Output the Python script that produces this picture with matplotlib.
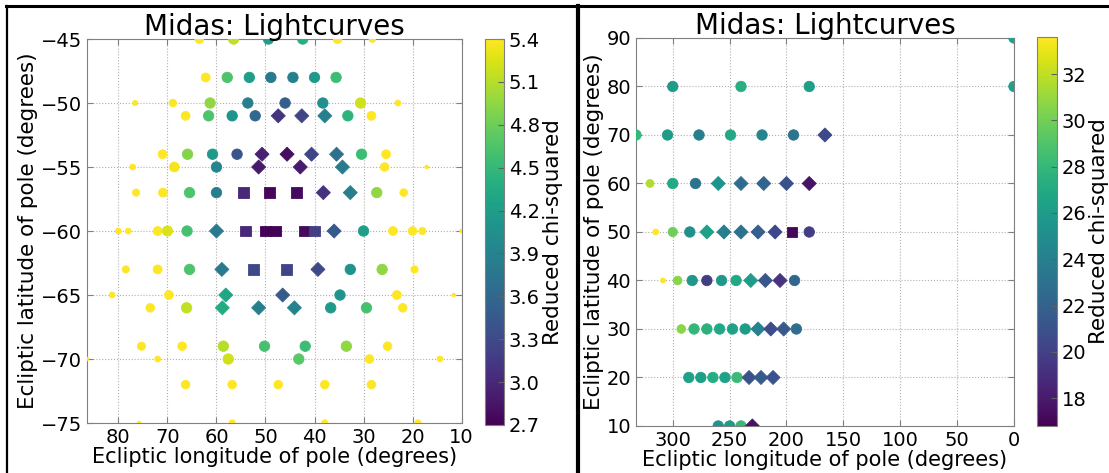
import numpy as np
import matplotlib
matplotlib.use('Agg')
from matplotlib import pyplot as plt
from matplotlib.lines import Line2D
from matplotlib.colors import Normalize
from matplotlib.cm import ScalarMappable

# southern pole solutions: ecliptic longitude, latitude, reduced chi-squared, marker class
south_lon = [63.5, 56.5, 49.4, 42.4, 35.3, 28.2,
             62.2, 57.8, 53.3, 48.9, 44.4, 40.0, 35.6,
             76.6, 68.9, 61.3, 53.6, 46.0, 38.3, 30.6, 23.0,
             66.3, 61.6, 56.8, 52.1, 47.4, 42.6, 37.9, 33.2, 28.4,
             71.0, 65.9, 60.8, 55.8, 50.7, 45.6, 40.6, 35.5, 30.4, 25.4,
             77.1, 68.6, 60.0, 51.4, 42.9, 34.3, 25.7, 17.1,
             76.4, 70.9, 65.5, 60.0, 54.5, 49.1, 43.6, 38.2, 32.7, 27.3, 21.8,
             78.0, 72.0, 66.0, 60.0, 54.0, 48.0, 42.0, 36.0, 30.0, 24.0, 18.0,
             80.0, 70.0, 50.0, 40.0, 20.0, 10.0,
             78.5, 72.0, 65.5, 58.9, 52.4, 45.8, 39.3, 32.7, 26.2, 19.6,
             81.3, 69.7, 58.1, 46.5, 34.8, 23.2, 11.6,
             73.5, 66.1, 58.8, 51.4, 44.1, 36.7, 29.4, 22.0,
             75.3, 67.0, 58.6, 50.2, 41.9, 33.5, 25.1,
             86.4, 72.0, 57.6, 43.2, 28.8, 14.4,
             66.3, 56.8, 47.4, 37.9, 28.4,
             75.8, 56.8, 37.9, 18.9]
south_lat = ([-45] * 6 + [-48] * 7 + [-50] * 8 + [-51] * 9 + [-54] * 10 + [-55] * 8
             + [-57] * 11 + [-60] * 11 + [-60] * 6 + [-63] * 10 + [-65] * 7
             + [-66] * 8 + [-69] * 7 + [-70] * 6 + [-72] * 5 + [-75] * 4)
south_chi2 = [5.54, 5.15, 4.2, 4.4, 5.54, 6.0,
              5.54, 4.65, 4.2, 3.8, 3.85, 4.15, 4.55,
              6.33, 5.83, 4.95, 3.85, 3.5, 4.05, 5.2, 6.2,
              5.54, 4.65, 4.1, 3.6, 3.1, 3.25, 3.85, 4.45, 5.54,
              5.54, 4.9, 4.15, 3.4, 2.95, 2.8, 3.25, 3.7, 4.55, 5.54,
              6.2, 5.35, 3.95, 2.88, 2.88, 3.8, 5.6, 6.67,
              5.9, 5.54, 4.65, 3.85, 3.0, 2.75, 2.78, 3.1, 3.85, 4.95, 5.8,
              6.2, 5.54, 4.6, 3.8, 3.0, 2.72, 2.78, 3.45, 4.2, 5.54, 5.9,
              6.2, 5.25, 2.72, 3.2, 5.6, 6.67,
              5.9, 5.54, 4.65, 3.8, 3.3, 3.25, 3.3, 4.1, 4.95, 5.9,
              6.2, 5.54, 4.3, 3.45, 4.1, 5.54, 6.67,
              5.6, 5.15, 4.35, 3.85, 3.9, 4.15, 4.6, 5.6,
              5.7, 5.6, 5.1, 4.6, 4.55, 4.95, 5.6,
              6.67, 6.2, 5.2, 4.7, 5.6, 6.2,
              5.6, 5.6, 5.6, 5.6, 5.6,
              6.67, 6.1, 6.1, 6.1]
south_kind = ''.join(['oooooo', 'ooooooo', 'oooooooo', 'ooooDDDoo', 'ooooDDDDoo',
                      'oooDDDoo', 'oooosssDDoo', 'oooDsssDooo', 'oossoo',
                      'oooDssDooo', 'ooDDooo', 'ooDDDooo', 'ooooooo', 'oooooo',
                      'ooooo', 'oooo'])

# northern pole solutions
north_lon = [0.0,
             300.0, 240.0, 180.0, 0.0,
             332.3, 304.6, 276.9, 249.2, 221.5, 193.8, 166.2,
             320.0, 300.0, 280.0, 260.0, 240.0, 220.0, 200.0, 180.0,
             315.0, 300.0, 285.0, 270.0, 255.0, 240.0, 225.0, 210.0, 195.0, 180.0,
             308.6, 295.7, 282.9, 270.0, 257.1, 244.3, 231.4, 218.6, 205.7, 192.9,
             292.5, 281.3, 270.0, 258.8, 247.5, 236.3, 225.0, 213.8, 202.5, 191.3,
             285.9, 275.3, 264.7, 254.1, 243.5, 232.9, 222.4, 211.8,
             260.0, 250.0, 240.0, 230.0]
north_lat = ([90] + [80] * 4 + [70] * 7 + [60] * 8 + [50] * 10 + [40] * 10
             + [30] * 10 + [20] * 8 + [10] * 4)
north_chi2 = [26.5,
              26.0, 27.4, 26.2, 26.4,
              28.0, 26.0, 23.9, 26.9, 24.4, 23.2, 20.5,
              31.6, 26.9, 23.2, 25.5, 22.7, 22.2, 21.0, 17.6,
              34.0, 29.9, 25.2, 26.4, 24.0, 23.2, 21.8, 20.5, 17.1, 19.8,
              35.0, 30.6, 25.7, 19.8, 25.7, 26.9, 26.0, 21.3, 19.3, 22.3,
              30.6, 27.9, 27.5, 26.9, 26.4, 26.0, 24.2, 20.7, 21.5, 22.8,
              26.4, 26.2, 27.2, 26.5, 28.2, 21.0, 21.5, 21.0,
              25.5, 26.0, 28.0, 17.6]
north_kind = ''.join(['o', 'oooo', 'ooooooD', 'oooDDDDD', 'oooDDDDDso',
                      'ooooooDDDo', 'ooooooDDDo', 'oooooDDD', 'oooD'])

south_ticks = [2.7, 3.0, 3.3, 3.6, 3.9, 4.2, 4.5, 4.8, 5.1, 5.4]
north_ticks = [18, 20, 22, 24, 26, 28, 30, 32]

# relative marker widths per shape
shape_scale = {'o': 1.0, 'D': 0.95, 's': 1.05}


def marker_area(chi2, start, base=7.5):
    '''Marker area (points^2): full size up to start, shrinking for poorer fits.'''
    chi2 = np.asarray(chi2, dtype=float)
    frac = 1 - np.clip(chi2 - start, 0, None) / start * 2.3
    return (base * np.clip(frac, 0.3, 1)) ** 2


def pole_panel(fig, rect, crect, lon, lat, chi2, kind, vmin, vmax, start,
               xlim, ylim, xticks, yticks, cticks):
    ax = fig.add_axes(rect)
    cax = fig.add_axes(crect)
    norm = Normalize(vmin, vmax)
    lon = np.asarray(lon)
    lat = np.asarray(lat)
    chi2 = np.asarray(chi2)
    kind = np.array(list(kind))
    for m in ['o', 'D', 's']:
        sel = kind == m
        sizes = marker_area(chi2[sel], start, 7.5 * shape_scale[m])
        ax.scatter(lon[sel], lat[sel], c=chi2[sel], s=sizes, marker=m,
                   cmap='viridis', norm=norm, linewidths=0.6,
                   edgecolors='face', zorder=3)
    ax.set_xlim(*xlim)
    ax.set_ylim(*ylim)
    ax.set_xticks(xticks)
    ax.set_yticks(yticks)
    ax.grid(True, color='#b0b0b0', linestyle=':', linewidth=0.8)
    ax.set_axisbelow(True)
    for sp in ax.spines.values():
        sp.set_color('#808080')
    ax.tick_params(direction='in', top=True, right=True, labelsize=14,
                   color='#808080', length=4)
    ax.set_title('Midas: Lightcurves', fontsize=20, pad=3)
    ax.set_xlabel('Ecliptic longitude of pole (degrees)', fontsize=15, labelpad=0)
    ax.set_ylabel('Ecliptic latitude of pole (degrees)', fontsize=15.5, labelpad=2)

    cb = fig.colorbar(ScalarMappable(norm=norm, cmap='viridis'), cax=cax,
                      ticks=cticks)
    cb.outline.set_edgecolor('#808080')
    cb.ax.tick_params(direction='in', labelsize=14, length=4, color='#606060')
    cb.set_label('Reduced chi-squared', fontsize=15.5, labelpad=2)
    return ax


fig = plt.figure(figsize=(11.09, 4.73), dpi=100)

pole_panel(fig, [0.0785, 0.1057, 0.3377, 0.8118], [0.4373, 0.1015, 0.0171, 0.816],
           south_lon, south_lat, south_chi2, south_kind, 2.7, 5.4, 5.2,
           (86.4, 10), (-75, -45), np.arange(80, 9, -10), np.arange(-75, -44, 5),
           south_ticks)
pole_panel(fig, [0.5735, 0.0994, 0.3408, 0.8203], [0.9351, 0.0994, 0.018, 0.8224],
           north_lon, north_lat, north_chi2, north_kind, 16.8, 33.6, 28.5,
           (332.3, 0), (10, 90), np.arange(300, -1, -50), np.arange(10, 91, 10),
           north_ticks)

# frame lines around the two panels
fig.add_artist(Line2D([0.0054, 1.0], [0.9873, 0.9873], transform=fig.transFigure,
                      color='k', lw=2.2))
fig.add_artist(Line2D([0.0063, 0.0063], [0.0, 0.9873], transform=fig.transFigure,
                      color='k', lw=1.6))
fig.add_artist(Line2D([0.5212, 0.5212], [0.0, 0.9873], transform=fig.transFigure,
                      color='k', lw=3.0))

fig.savefig('out.png', dpi=100)
